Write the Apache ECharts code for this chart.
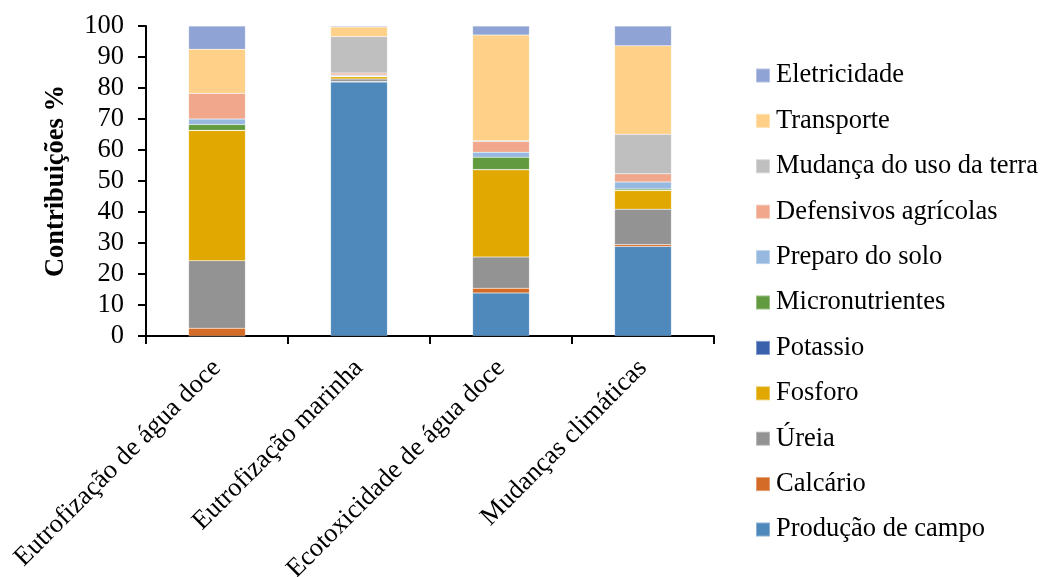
<!DOCTYPE html>
<html><head><meta charset="utf-8">
<script src="https://cdn.jsdelivr.net/npm/echarts@6/dist/echarts.min.js"></script>
<style>html,body{margin:0;padding:0;background:#fff}#c{width:1040px;height:577px}</style>
</head><body><div id="c"></div>
<script>
const categories = ['Eutrofização de água doce','Eutrofização marinha','Ecotoxicidade de água doce','Mudanças climáticas'];
const seriesNames = ['Produção de campo','Calcário','Úreia','Fosforo','Potassio','Micronutrientes','Preparo do solo','Defensivos agrícolas','Mudança do uso da terra','Transporte','Eletricidade'];
const producao = [0, 81.9, 13.9, 28.9];
const calcario = [2.5, 0.2, 1.5, 0.6];
const ureia = [21.8, 0.8, 10.1, 11.4];
const fosforo = [42.0, 0.7, 28.1, 6.0];
const potassio = [0.1, 0.1, 0.1, 0.1];
const micronutrientes = [1.8, 0.2, 4.0, 0.4];
const preparo = [1.8, 0.3, 1.6, 2.3];
const defensivos = [8.3, 0.6, 3.4, 2.6];
const mudanca = [0, 11.8, 0.3, 12.8];
const transporte = [14.2, 3.1, 34.1, 28.5];
const eletricidade = [7.5, 0.3, 2.9, 6.4];
const yTicks = [0,10,20,30,40,50,60,70,80,90,100];

const values = [producao, calcario, ureia, fosforo, potassio, micronutrientes, preparo, defensivos, mudanca, transporte, eletricidade];
const colors = ['#4F88BB','#D46C28','#939393','#E0A800','#3A62AC','#629A40','#97B9E0','#F0A78C','#BFBFBF','#FFD088','#8FA3D4'];
const font = '"Liberation Serif", "DejaVu Serif", serif';
const fs = 26.5;

const chart = echarts.init(document.getElementById('c'), null, {renderer:'canvas'});
chart.setOption({
  animation: false,
  color: colors,
  grid: {left: 146, right: 326, top: 26, bottom: 241, containLabel: false, outerBoundsMode: 'none'},
  legend: {
    orient: 'vertical', left: 750, top: 57, itemGap: 18.4, padding: 5,
    itemWidth: 14, itemHeight: 14, icon: 'rect',
    data: seriesNames.slice().reverse(),
    textStyle: {fontFamily: font, fontSize: fs, lineHeight: 27, color: '#000', padding: [0,0,0,1]}
  },
  xAxis: {
    type: 'category', data: categories,
    axisLine: {lineStyle: {color: '#000', width: 2}},
    axisTick: {show: true, length: 8, lineStyle: {color: '#000', width: 2}},
    axisLabel: {rotate: 45, fontFamily: font, fontSize: fs, color: '#000', margin: 28, interval: 0}
  },
  yAxis: {
    type: 'value', min: 0, max: 100, interval: 10,
    name: 'Contribuições %', nameLocation: 'middle', nameGap: 76,
    nameTextStyle: {fontFamily: font, fontSize: fs, fontWeight: 'bold', color: '#000'},
    axisLine: {show: true, lineStyle: {color: '#000', width: 2}},
    axisTick: {show: true, length: 8, lineStyle: {color: '#000', width: 2}},
    splitLine: {show: false},
    axisLabel: {fontFamily: font, fontSize: fs, color: '#000', margin: 22,
      formatter: v => yTicks.includes(v) ? String(v) : ''}
  },
  series: seriesNames.map((n, i) => ({
    name: n, type: 'bar', stack: 'total', barWidth: '40%',
    data: values[i],
    itemStyle: {color: colors[i], borderColor: 'rgba(255,255,255,0.35)', borderWidth: 0.5}
  }))
});
</script></body></html>
